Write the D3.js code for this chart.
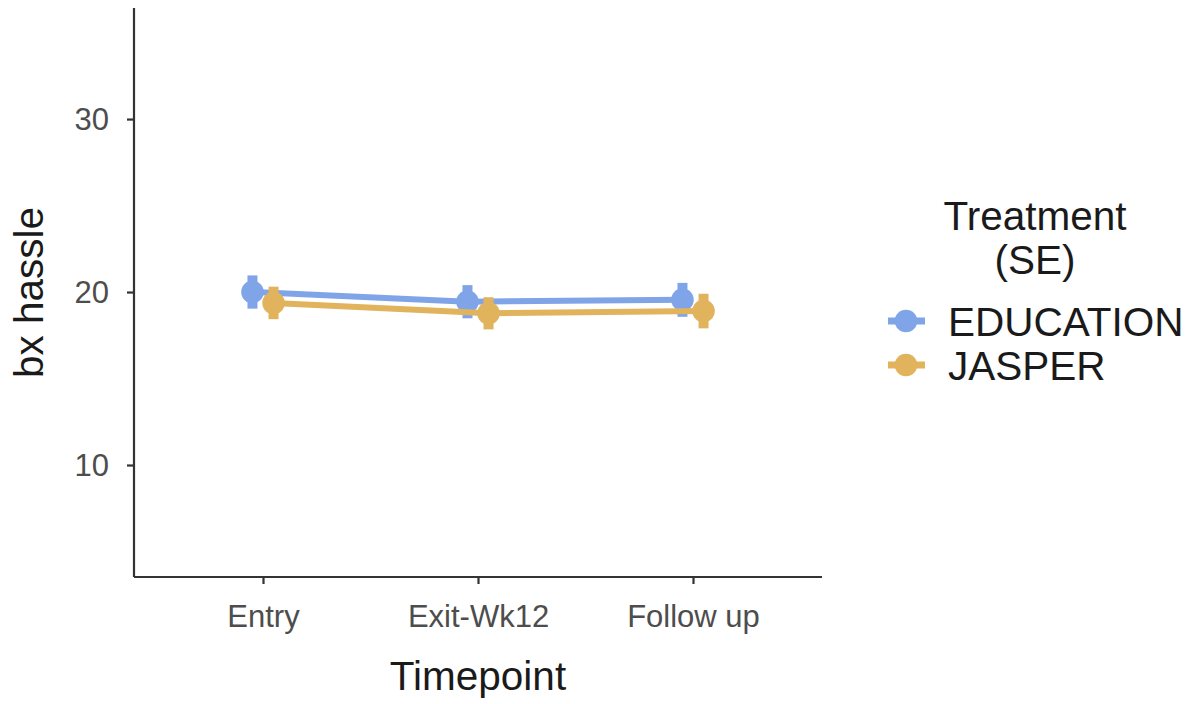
<!DOCTYPE html>
<html>
<head>
<meta charset="utf-8">
<script src="https://cdn.jsdelivr.net/npm/d3@7"></script>
<style>
  html, body { margin: 0; padding: 0; background: #ffffff; }
  svg { display: block; font-family: "Liberation Sans", Arial, sans-serif; }
</style>
</head>
<body>
<svg id="chart" width="1193" height="704"></svg>
<script>
// Mean behaviour-hassle score by timepoint and treatment arm, with standard errors
const timepoints = ["Entry", "Exit-Wk12", "Follow up"];
const treatments = ["EDUCATION", "JASPER"];
const educationMean = [20.0, 19.44, 19.55];
const educationSE   = [0.96, 0.96, 0.98];
const jasperMean    = [19.37, 18.77, 18.9];
const jasperSE      = [0.94, 0.93, 1.0];
const yTicks = [10, 20, 30];
const colors = ["#7fa5e8", "#e1b35d"];

const series = [
  { name: treatments[0], mean: educationMean, se: educationSE, color: colors[0], dodge: -1 },
  { name: treatments[1], mean: jasperMean,    se: jasperSE,    color: colors[1], dodge: 1 }
];

const svg = d3.select("#chart");
const plot = { left: 134, right: 822, top: 8, bottom: 577 };

const x = d3.scalePoint().domain(timepoints).range([plot.left, plot.right]).padding(0.6);
const y = d3.scaleLinear().domain([3.526, 36.42]).range([plot.bottom, plot.top]);
const dodgeOffset = x.step() * 0.049;

const axisColor = "#333333";
const tickTextColor = "#4d4d4d";
const titleColor = "#1a1a1a";
const titleSize = "40.5px";

// Axes
const yAxis = svg.append("g")
  .attr("transform", `translate(${plot.left},0)`)
  .call(d3.axisLeft(y).tickValues(yTicks).tickSize(7).tickPadding(18).tickSizeOuter(0));
const xAxis = svg.append("g")
  .attr("transform", `translate(0,${plot.bottom})`)
  .call(d3.axisBottom(x).tickSize(7).tickPadding(21).tickSizeOuter(0));

[yAxis, xAxis].forEach(g => {
  g.select(".domain").attr("stroke", axisColor).attr("stroke-width", 2.2);
  g.selectAll(".tick line").attr("stroke", axisColor).attr("stroke-width", 2.2);
  g.selectAll(".tick text")
    .attr("fill", tickTextColor)
    .style("font-size", "31px")
    .style("font-family", "'Liberation Sans', Arial, sans-serif");
});
yAxis.select(".domain").attr("d", `M0,${plot.top}V${plot.bottom}`);
xAxis.select(".domain").attr("d", `M${plot.left},0H${plot.right}`);
xAxis.selectAll(".tick text").attr("dy", "0.71em");
yAxis.selectAll(".tick text").attr("dy", "0.35em");

// Axis titles
svg.append("text")
  .attr("x", (plot.left + plot.right) / 2)
  .attr("y", 690)
  .attr("text-anchor", "middle")
  .attr("fill", titleColor)
  .style("font-size", titleSize)
  .text("Timepoint");

svg.append("text")
  .attr("transform", `translate(43,${(plot.top + plot.bottom) / 2}) rotate(-90)`)
  .attr("text-anchor", "middle")
  .attr("fill", titleColor)
  .style("font-size", titleSize)
  .text("bx hassle");

// Series: connecting lines, error bars, points
const line = d3.line()
  .x((d, i) => x(timepoints[i]) + d.off)
  .y(d => y(d.v));

series.forEach(s => {
  const pts = s.mean.map((v, i) => ({ v, se: s.se[i], off: s.dodge * dodgeOffset, t: timepoints[i] }));
  const g = svg.append("g");
  g.append("path")
    .datum(pts)
    .attr("fill", "none")
    .attr("stroke", s.color)
    .attr("stroke-width", 6)
    .attr("d", line);
  g.selectAll("line.err")
    .data(pts)
    .join("line")
    .attr("class", "err")
    .attr("x1", d => x(d.t) + d.off)
    .attr("x2", d => x(d.t) + d.off)
    .attr("y1", d => y(d.v - d.se))
    .attr("y2", d => y(d.v + d.se))
    .attr("stroke", s.color)
    .attr("stroke-width", 10);
  g.selectAll("circle")
    .data(pts)
    .join("circle")
    .attr("cx", d => x(d.t) + d.off)
    .attr("cy", d => y(d.v))
    .attr("r", 11.3)
    .attr("fill", s.color);
});

// Legend
const legend = svg.append("g");
legend.append("text")
  .attr("x", 1035).attr("y", 230)
  .attr("text-anchor", "middle")
  .attr("fill", titleColor)
  .style("font-size", titleSize)
  .text("Treatment");
legend.append("text")
  .attr("x", 1035).attr("y", 274)
  .attr("text-anchor", "middle")
  .attr("fill", titleColor)
  .style("font-size", titleSize)
  .text("(SE)");

const keyY = [321, 365];
series.forEach((s, i) => {
  const ky = keyY[i];
  legend.append("line")
    .attr("x1", 888).attr("x2", 925)
    .attr("y1", ky).attr("y2", ky)
    .attr("stroke", s.color).attr("stroke-width", 7);
  legend.append("circle")
    .attr("cx", 906).attr("cy", ky).attr("r", 11.3)
    .attr("fill", s.color);
  legend.append("text")
    .attr("x", 948).attr("y", ky)
    .attr("dy", "0.36em")
    .attr("fill", titleColor)
    .style("font-size", titleSize)
    .text(s.name);
});
</script>
</body>
</html>
